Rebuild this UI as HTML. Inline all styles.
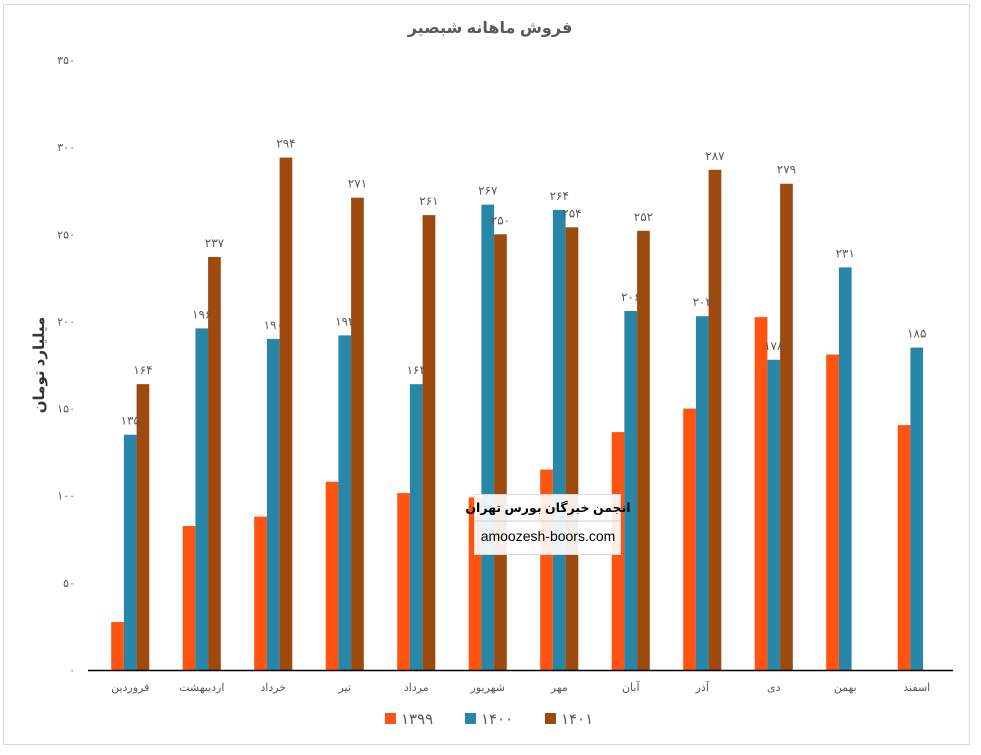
<!DOCTYPE html>
<html><head><meta charset="utf-8">
<style>
body{margin:0;background:#fff;width:981px;height:750px;overflow:hidden;font-family:"Liberation Sans","DejaVu Sans",sans-serif;}
svg text{font-family:"Liberation Sans","DejaVu Sans",sans-serif;}
</style></head>
<body>
<svg id="chart" width="981" height="750" xmlns="http://www.w3.org/2000/svg">
<rect x="3.5" y="4.5" width="966" height="740" fill="#fff" stroke="#d9d9d9"/>
<text x="490" y="33" text-anchor="middle" font-size="16" fill="#595959" font-weight="bold">فروش ماهانه شبصیر</text>
<text transform="translate(44,365) rotate(-90)" text-anchor="middle" font-size="15" font-weight="bold" fill="#333">میلیارد تومان</text>
<g id="yticks"></g>
<g id="bars"></g>
<g id="labels"></g>
<line x1="88" y1="670.5" x2="953" y2="670.5" stroke="#000" stroke-width="1.5"/>
<g id="xlabels"></g>
<g>
<rect x="474.5" y="494.5" width="146" height="60" fill="#fff" fill-opacity="0.9" stroke="#ddd"/>
<line x1="474" y1="521" x2="621" y2="521" stroke="#ccc"/>
<text x="548" y="512" text-anchor="middle" font-size="12.5" font-weight="bold" fill="#000">انجمن خبرگان بورس تهران</text>
<text x="548" y="541" text-anchor="middle" font-size="14" fill="#000" font-family="Liberation Serif">amoozesh-boors.com</text>
</g>
<g id="legend"></g>
</svg>
<script>
const categories=["فروردین","اردیبهشت","خرداد","تیر","مرداد","شهریور","مهر","آبان","آذر","دی","بهمن","اسفند"];
const seriesNames=["1399","1400","1401"];
const s1399=[27.5,82.6,88,108,101.5,99,115,136.5,150,202.5,181,140.5];
const s1400=[135,196,190,192,164,267,264,206,203,178,231,185];
const s1401=[164,237,294,271,261,250,254,252,287,279,null,null];
const yTicks=[0,50,100,150,200,250,300,350];
const series=[s1399,s1400,s1401];
const colors=["#ff5311","#2887a8","#9c4a0e"];
const NS="http://www.w3.org/2000/svg";
const fa=n=>String(n).replace(/\d/g,d=>"۰۱۲۳۴۵۶۷۸۹"[d]);
const y0=670,yMax=350,pxPer=610/yMax;
const y=v=>y0-v*pxPer;
const left=94.5,step=858/categories.length,bw=12.7;
const cx=i=>left+step*(i+0.5);
function mk(tag,attrs,parent,txt){const e=document.createElementNS(NS,tag);for(const k in attrs)e.setAttribute(k,attrs[k]);if(txt!==undefined)e.textContent=txt;document.getElementById(parent).appendChild(e);return e;}
yTicks.forEach(t=>{
 const e=mk("text",{x:75,y:y(t)+4,"text-anchor":"end","font-size":"11",fill:"#595959"},"yticks",fa(t));
 
 
});
categories.forEach((c,i)=>{
 const e=mk("text",{x:cx(i),y:691,"text-anchor":"middle","font-size":"11",fill:"#595959"},"xlabels",c);
 
 
 series.forEach((s,j)=>{
  const v=s[i]; if(v===null||v===undefined) return;
  const x=cx(i)+(j-1.5)*bw;
  const r=mk("rect",{x:x,y:y(v),width:bw,height:y0-y(v),fill:colors[j]},"bars");
  
  
  if(j>0){
   const t=mk("text",{x:x+bw/2,y:y(v)-10,"text-anchor":"middle","font-size":"12",fill:"#595959"},"labels",fa(v));
   
   
  }
 });
});
const lx=[385,465,545];
seriesNames.forEach((n,j)=>{
 const r=mk("rect",{x:lx[j],y:713,width:11,height:11,fill:colors[j]},"legend");
 
 
 const t=mk("text",{x:lx[j]+16,y:724,"font-size":"15",fill:"#595959"},"legend",fa(n));
 
 
});
</script>
</body></html>
